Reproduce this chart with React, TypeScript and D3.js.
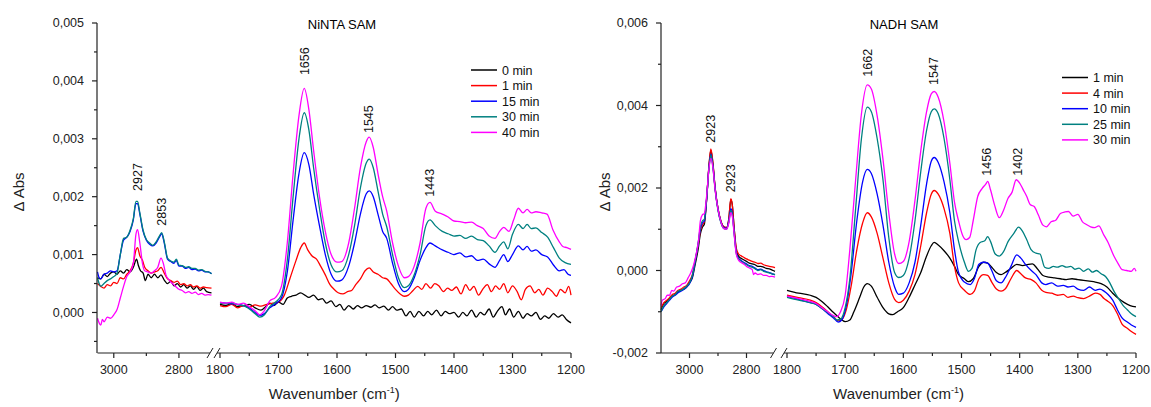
import React from "react";
import * as d3 from "d3";

type P = [number, number];

// ---------------- NiNTA SAM (left) ----------------
const ninaLabels = ["0 min", "1 min", "15 min", "30 min", "40 min"];
const nadhLabels = ["1 min", "4 min", "10 min", "25 min", "30 min"];
const seriesColors = ["#000000", "#ff0000", "#0000ff", "#008080", "#ff00ff"];

const ninta0_hi: P[] = [[3050,0.0006],[3040,0.00058],[3030,0.00066],[3020,0.00062],[3010,0.00068],[3000,0.0007],[2990,0.00066],[2980,0.00072],[2970,0.00068],[2960,0.00074],[2950,0.0007],[2940,0.00078],[2930,0.00092],[2925,0.00082],[2918,0.00072],[2910,0.00068],[2903,0.00055],[2895,0.00066],[2885,0.0006],[2875,0.00066],[2865,0.0006],[2855,0.00065],[2845,0.00056],[2835,0.0005],[2825,0.00054],[2815,0.00046],[2805,0.0005],[2795,0.00044],[2785,0.00048],[2775,0.00042],[2765,0.00046],[2755,0.0004],[2745,0.00045],[2735,0.00038],[2725,0.00042],[2715,0.00036],[2700,0.00034]];
const ninta1_hi: P[] = [[3050,0.0005],[3040,0.00045],[3030,0.00042],[3020,0.00048],[3010,0.00046],[3000,0.00052],[2990,0.0005],[2980,0.0006],[2970,0.00058],[2960,0.00066],[2950,0.00072],[2940,0.00085],[2932,0.00108],[2927,0.00112],[2920,0.00098],[2912,0.0009],[2905,0.00078],[2895,0.00072],[2885,0.00068],[2875,0.0007],[2865,0.00072],[2855,0.00078],[2845,0.00068],[2835,0.00058],[2825,0.00055],[2815,0.00052],[2805,0.00054],[2795,0.00048],[2785,0.0005],[2775,0.00046],[2765,0.00048],[2755,0.00044],[2745,0.00046],[2735,0.00042],[2725,0.00044],[2715,0.00043],[2700,0.00042]];
const ninta15_hi: P[] = [[3050,0.0007],[3045,0.0006],[3040,0.00058],[3030,0.00066],[3020,0.00068],[3010,0.00072],[3000,0.0007],[2990,0.00072],[2980,0.001],[2970,0.00125],[2960,0.0013],[2950,0.0014],[2940,0.0016],[2932,0.00188],[2927,0.00188],[2920,0.0017],[2910,0.0014],[2900,0.00125],[2890,0.00118],[2880,0.00115],[2870,0.0012],[2860,0.0013],[2853,0.00136],[2845,0.0012],[2835,0.00092],[2825,0.00088],[2815,0.00085],[2808,0.0009],[2800,0.0008],[2790,0.0008],[2780,0.00076],[2770,0.00078],[2760,0.00074],[2750,0.00075],[2740,0.00072],[2730,0.00073],[2720,0.0007],[2710,0.0007],[2700,0.00067]];
const ninta30_hi: P[] = [[3050,0.0006],[3045,0.0005],[3040,0.00045],[3030,0.0005],[3020,0.00055],[3010,0.00058],[3000,0.00062],[2990,0.00068],[2980,0.001],[2970,0.00128],[2960,0.0013],[2950,0.00142],[2940,0.00162],[2932,0.00192],[2927,0.00192],[2920,0.00172],[2910,0.00142],[2900,0.00126],[2890,0.0012],[2880,0.00116],[2870,0.00122],[2860,0.00132],[2853,0.00138],[2845,0.00122],[2835,0.00094],[2825,0.00089],[2815,0.00087],[2808,0.00092],[2800,0.00082],[2790,0.00081],[2780,0.00078],[2770,0.00079],[2760,0.00076],[2750,0.00076],[2740,0.00073],[2730,0.00074],[2720,0.00071],[2710,0.0007],[2700,0.00067]];
const ninta40_hi: P[] = [[3050,-0.0001],[3045,-0.00018],[3040,-0.00022],[3035,-0.00012],[3030,-0.00016],[3020,-0.00008],[3010,-0.0001],[3000,-0.00004],[2990,0.00005],[2980,0.00025],[2970,0.00045],[2960,0.00062],[2950,0.0007],[2940,0.00085],[2932,0.00135],[2927,0.00143],[2920,0.0012],[2912,0.00085],[2905,0.00072],[2895,0.0007],[2885,0.00068],[2875,0.00072],[2865,0.00078],[2855,0.00094],[2848,0.00085],[2840,0.00065],[2830,0.00056],[2820,0.0005],[2810,0.00045],[2800,0.0004],[2790,0.00038],[2780,0.00034],[2770,0.00036],[2760,0.00033],[2750,0.00035],[2740,0.00031],[2730,0.00033],[2720,0.0003],[2710,0.00031],[2700,0.0003]];

const ninta0_lo: P[] = [[1800,0.00014],[1790,0.00012],[1780,0.00015],[1770,0.0001],[1760,0.00012],[1750,0.00014],[1740,0.00008],[1730,0.00004],[1722,0.0001],[1715,0.00016],[1708,0.00012],[1700,0.00018],[1692,0.00014],[1685,0.00025],[1678,0.00028],[1670,0.0003],[1662,0.00034],[1655,0.0003],[1648,0.00026],[1640,0.0003],[1632,0.00022],[1625,0.00024],[1618,0.00016],[1610,0.0002],[1602,0.0001],[1595,0.00014],[1588,0.00004],[1580,0.00012],[1572,0.00006],[1565,0.00012],[1558,0.00008],[1550,0.00012],[1542,0.00009],[1535,0.00013],[1528,0.00008],[1520,0.00011],[1512,0.00004],[1505,0.0001],[1498,0.00004],[1490,0.00006],[1482,-0.00006],[1475,0.00002],[1468,-0.00008],[1460,0.00002],[1452,-0.00006],[1445,0.00002],[1438,-0.00004],[1430,0.00004],[1422,-0.00006],[1415,0.00002],[1408,-0.00002],[1400,0],[1392,-0.00008],[1385,0],[1378,-0.00006],[1370,0.00004],[1362,-0.00008],[1355,0],[1348,-0.00004],[1340,0.00006],[1333,-0.00008],[1326,0.00002],[1318,0.0001],[1312,-0.00004],[1305,0.00006],[1298,-0.00008],[1290,0.00002],[1282,-0.0001],[1275,-0.00002],[1268,-0.00006],[1260,0],[1252,-0.00012],[1245,-0.00006],[1238,-0.0001],[1230,-0.00002],[1222,-0.00008],[1215,-0.00004],[1208,-0.00012],[1200,-0.00018]];
const ninta1_lo: P[] = [[1800,0.00012],[1790,0.0001],[1780,0.00014],[1770,0.00008],[1760,0.00012],[1750,0.00009],[1740,0.00013],[1730,0.00011],[1720,0.00014],[1710,0.00016],[1700,0.00018],[1690,0.0003],[1680,0.0006],[1670,0.0009],[1662,0.00112],[1656,0.0012],[1650,0.00108],[1643,0.00098],[1635,0.00092],[1628,0.0008],[1620,0.00065],[1612,0.00048],[1605,0.0004],[1598,0.00034],[1590,0.00032],[1582,0.00036],[1575,0.00038],[1568,0.00048],[1560,0.00058],[1552,0.00072],[1545,0.00077],[1538,0.0007],[1530,0.00066],[1522,0.0006],[1515,0.00058],[1508,0.0005],[1500,0.0004],[1492,0.00032],[1485,0.00028],[1478,0.0003],[1470,0.00038],[1462,0.00045],[1455,0.0004],[1448,0.0005],[1440,0.00042],[1433,0.0005],[1426,0.00046],[1418,0.00036],[1411,0.00042],[1404,0.00038],[1396,0.00044],[1388,0.00032],[1380,0.00048],[1373,0.00038],[1366,0.00045],[1358,0.0003],[1351,0.0004],[1343,0.00048],[1336,0.00036],[1329,0.00046],[1322,0.0004],[1315,0.0005],[1308,0.00034],[1300,0.00046],[1292,0.00036],[1285,0.00022],[1278,0.0004],[1270,0.00046],[1262,0.00034],[1255,0.0004],[1248,0.0003],[1240,0.00042],[1232,0.00036],[1225,0.00028],[1218,0.0004],[1210,0.00034],[1204,0.00045],[1200,0.0003]];
const ninta15_lo: P[] = [[1800,0.00017],[1790,0.00016],[1780,0.00015],[1770,0.00014],[1760,0.00012],[1750,0.00008],[1740,0],[1732,-0.00005],[1724,-0.00002],[1715,0.00008],[1705,0.00015],[1695,0.00025],[1685,0.0007],[1675,0.0016],[1665,0.0024],[1656,0.00276],[1648,0.00255],[1640,0.00205],[1630,0.0015],[1620,0.001],[1610,0.00066],[1600,0.00054],[1592,0.00056],[1580,0.0008],[1570,0.0012],[1560,0.0017],[1550,0.00205],[1545,0.0021],[1538,0.002],[1530,0.0017],[1522,0.0014],[1515,0.00128],[1505,0.00085],[1495,0.0005],[1485,0.00036],[1478,0.0004],[1468,0.0006],[1458,0.0009],[1448,0.00112],[1441,0.0012],[1432,0.00115],[1420,0.00108],[1410,0.00104],[1400,0.001],[1390,0.00103],[1380,0.00096],[1370,0.00098],[1360,0.0009],[1350,0.00092],[1340,0.00084],[1330,0.00078],[1322,0.0009],[1315,0.001],[1308,0.00088],[1300,0.001],[1290,0.00115],[1282,0.00108],[1275,0.00114],[1268,0.00106],[1260,0.00108],[1250,0.001],[1240,0.00096],[1230,0.00082],[1220,0.00072],[1212,0.00074],[1205,0.00066],[1200,0.00064]];
const ninta30_lo: P[] = [[1800,0.00016],[1790,0.00015],[1780,0.00017],[1770,0.00013],[1760,0.00012],[1750,0.00006],[1740,-0.00002],[1732,-0.00008],[1724,-0.00004],[1715,0.0001],[1705,0.00018],[1695,0.0003],[1685,0.0009],[1675,0.002],[1665,0.003],[1656,0.00345],[1648,0.00315],[1640,0.0025],[1630,0.0018],[1620,0.0012],[1610,0.00082],[1600,0.0007],[1592,0.00072],[1580,0.001],[1570,0.0015],[1560,0.00215],[1550,0.00258],[1545,0.00265],[1538,0.0025],[1530,0.0021],[1522,0.0017],[1515,0.00148],[1505,0.001],[1495,0.0006],[1485,0.00043],[1478,0.00046],[1468,0.00065],[1458,0.001],[1448,0.0015],[1441,0.0016],[1432,0.0015],[1420,0.0014],[1410,0.00136],[1400,0.00132],[1390,0.00133],[1380,0.00128],[1370,0.00132],[1360,0.00126],[1350,0.00124],[1340,0.00115],[1330,0.00104],[1322,0.00115],[1315,0.00122],[1308,0.0011],[1300,0.00135],[1290,0.00152],[1282,0.00145],[1275,0.00152],[1268,0.00145],[1260,0.00146],[1250,0.00138],[1240,0.0013],[1230,0.00112],[1220,0.00094],[1210,0.00086],[1200,0.00083]];
const ninta40_lo: P[] = [[1800,0.00018],[1790,0.00016],[1780,0.00018],[1770,0.00014],[1760,0.00016],[1750,0.0001],[1740,0.00003],[1732,-0.00004],[1725,0.00002],[1715,0.0002],[1705,0.00026],[1695,0.00045],[1685,0.0012],[1675,0.0024],[1665,0.0034],[1656,0.00387],[1648,0.0035],[1640,0.0028],[1630,0.002],[1620,0.0014],[1610,0.001],[1600,0.00087],[1592,0.00088],[1580,0.0012],[1570,0.0018],[1560,0.0025],[1550,0.00295],[1545,0.00303],[1538,0.00285],[1530,0.0024],[1522,0.002],[1515,0.00175],[1505,0.0012],[1495,0.0008],[1485,0.0006],[1478,0.00062],[1468,0.0008],[1458,0.0012],[1448,0.0018],[1441,0.0019],[1432,0.00175],[1420,0.0017],[1410,0.00165],[1400,0.00158],[1390,0.00157],[1380,0.00155],[1370,0.00156],[1360,0.0015],[1350,0.00145],[1340,0.00132],[1330,0.00128],[1322,0.0014],[1315,0.00147],[1306,0.0014],[1298,0.0016],[1290,0.0018],[1282,0.00172],[1275,0.00178],[1268,0.00172],[1260,0.00174],[1250,0.00172],[1241,0.0017],[1231,0.00143],[1220,0.00122],[1214,0.00114],[1207,0.00112],[1200,0.00109]];

// ---------------- NADH SAM (right) ----------------
const nadh1_hi: P[] = [[3100,-0.00095],[3090,-0.0008],[3080,-0.00075],[3070,-0.00068],[3060,-0.00062],[3050,-0.00058],[3040,-0.00052],[3030,-0.00048],[3020,-0.00045],[3010,-0.0004],[3000,-0.0003],[2990,-0.00018],[2980,0.00015],[2970,0.0005],[2962,0.00088],[2955,0.00105],[2948,0.00112],[2940,0.0017],[2932,0.0025],[2925,0.00292],[2918,0.0026],[2910,0.002],[2900,0.0015],[2890,0.0012],[2880,0.00106],[2870,0.00104],[2862,0.00125],[2855,0.00172],[2850,0.0016],[2843,0.001],[2836,0.0005],[2828,0.00035],[2820,0.0003],[2810,0.00026],[2800,0.00022],[2790,0.00018],[2780,0.00016],[2770,0.00014],[2760,0.0001],[2750,0.0001],[2740,0.00008],[2730,0.00005],[2720,0.00004],[2710,0.00001],[2700,-0.00002]];
const nadh4_hi: P[] = [[3100,-0.0009],[3090,-0.00078],[3080,-0.00072],[3070,-0.00066],[3060,-0.00058],[3050,-0.00055],[3040,-0.00048],[3030,-0.00045],[3020,-0.0004],[3010,-0.00036],[3000,-0.00025],[2990,-0.0001],[2980,0.00025],[2970,0.0006],[2962,0.00095],[2955,0.0011],[2948,0.00118],[2940,0.00172],[2932,0.00252],[2925,0.00295],[2918,0.00262],[2910,0.002],[2900,0.0015],[2890,0.0012],[2880,0.00106],[2870,0.00104],[2862,0.00126],[2855,0.00174],[2850,0.0016],[2843,0.001],[2836,0.00055],[2828,0.0004],[2820,0.00036],[2810,0.00032],[2800,0.00028],[2790,0.00025],[2780,0.00022],[2770,0.0002],[2760,0.00017],[2750,0.00018],[2740,0.00014],[2730,0.00012],[2720,0.0001],[2710,0.00009],[2700,0.00007]];
const nadh10_hi: P[] = [[3100,-0.001],[3090,-0.00088],[3080,-0.0008],[3070,-0.00072],[3060,-0.00064],[3050,-0.0006],[3040,-0.00054],[3030,-0.0005],[3020,-0.00046],[3010,-0.0004],[3000,-0.00032],[2990,-0.00015],[2980,0.00022],[2970,0.00062],[2962,0.001],[2955,0.00115],[2948,0.0012],[2940,0.00172],[2932,0.00248],[2925,0.00282],[2918,0.00255],[2910,0.00198],[2900,0.00148],[2890,0.00118],[2880,0.00104],[2870,0.00102],[2862,0.0012],[2855,0.0015],[2850,0.0014],[2843,0.0009],[2836,0.00045],[2828,0.0003],[2820,0.00025],[2810,0.0002],[2800,0.00016],[2790,0.00012],[2780,0.0001],[2770,0.00006],[2760,0.00002],[2750,0.00003],[2740,0],[2730,-0.00003],[2720,-0.00005],[2710,-0.00008],[2700,-0.0001]];
const nadh25_hi: P[] = [[3100,-0.001],[3090,-0.00085],[3080,-0.00078],[3070,-0.0007],[3060,-0.00062],[3050,-0.00058],[3040,-0.0005],[3030,-0.00048],[3020,-0.00044],[3010,-0.00038],[3000,-0.0003],[2990,-0.00012],[2980,0.00025],[2970,0.00065],[2962,0.00105],[2955,0.0012],[2948,0.00124],[2940,0.00175],[2932,0.00245],[2925,0.0028],[2918,0.00252],[2910,0.00196],[2900,0.00146],[2890,0.00116],[2880,0.00102],[2870,0.001],[2862,0.00118],[2855,0.00146],[2850,0.00136],[2843,0.00088],[2836,0.00043],[2828,0.00028],[2820,0.00023],[2810,0.00018],[2800,0.00014],[2790,0.0001],[2780,0.00008],[2770,0.00004],[2760,0],[2750,0.00002],[2740,-0.00002],[2730,-0.00004],[2720,-0.00006],[2710,-0.00008],[2700,-0.0001]];
const nadh30_hi: P[] = [[3100,-0.00085],[3095,-0.00072],[3085,-0.00068],[3078,-0.0006],[3070,-0.0006],[3062,-0.00048],[3055,-0.0005],[3045,-0.0004],[3035,-0.00038],[3025,-0.00032],[3015,-0.0003],[3005,-0.00018],[2995,-0.00005],[2985,0.00015],[2975,0.00045],[2968,0.00075],[2962,0.0012],[2955,0.00135],[2948,0.00138],[2940,0.0018],[2932,0.00245],[2925,0.00272],[2918,0.0025],[2910,0.00195],[2900,0.00148],[2890,0.00118],[2880,0.00102],[2870,0.001],[2862,0.00115],[2855,0.0014],[2850,0.00132],[2843,0.00085],[2836,0.0004],[2828,0.00025],[2820,0.0002],[2810,0.00016],[2800,0.0001],[2790,0.00006],[2780,0.00002],[2775,-0.0001],[2770,-0.00006],[2760,-0.0001],[2750,-0.00008],[2740,-0.00012],[2730,-0.00012],[2720,-0.00015],[2710,-0.00014],[2700,-0.00016]];

const nadh1_lo: P[] = [[1800,-0.00048],[1780,-0.00055],[1760,-0.0006],[1750,-0.00065],[1740,-0.00075],[1730,-0.00088],[1720,-0.00102],[1710,-0.00115],[1700,-0.00124],[1692,-0.0012],[1685,-0.001],[1675,-0.00065],[1668,-0.0004],[1662,-0.00032],[1655,-0.00038],[1645,-0.00065],[1635,-0.0009],[1625,-0.00105],[1618,-0.00107],[1610,-0.001],[1600,-0.0009],[1590,-0.00065],[1580,-0.00035],[1570,-0.00005],[1560,0.00035],[1552,0.0006],[1547,0.00068],[1540,0.00062],[1530,0.00048],[1520,0.0003],[1512,0.0001],[1505,-0.0001],[1495,-0.0002],[1488,-0.00027],[1480,-0.0002],[1470,0.0001],[1462,0.0002],[1455,0.00018],[1448,0.00008],[1440,-0.00005],[1432,-0.0001],[1425,-0.00005],[1415,0.00005],[1405,0.00015],[1395,0.00012],[1385,0.00015],[1378,0.00016],[1370,0.00005],[1360,-0.00012],[1350,-0.00016],[1340,-0.00018],[1330,-0.0002],[1320,-0.00022],[1310,-0.0002],[1300,-0.00022],[1290,-0.00024],[1280,-0.00026],[1270,-0.00028],[1260,-0.00032],[1250,-0.0004],[1240,-0.00055],[1230,-0.00068],[1220,-0.00078],[1210,-0.00085],[1200,-0.00088]];
const nadh4_lo: P[] = [[1800,-0.0006],[1780,-0.00066],[1760,-0.00072],[1750,-0.00078],[1740,-0.00088],[1730,-0.001],[1720,-0.00112],[1712,-0.00122],[1705,-0.00118],[1698,-0.00095],[1690,-0.0004],[1680,0.0005],[1670,0.00115],[1662,0.0014],[1655,0.0013],[1645,0.0009],[1635,0.0003],[1625,-0.0003],[1615,-0.0007],[1608,-0.00078],[1600,-0.00072],[1590,-0.0005],[1580,-0.0001],[1570,0.0006],[1560,0.0014],[1552,0.00185],[1547,0.00194],[1540,0.00185],[1530,0.0015],[1520,0.0009],[1512,0.0001],[1505,-0.0003],[1495,-0.00048],[1485,-0.00058],[1478,-0.0005],[1470,-0.0002],[1462,-0.0001],[1455,-0.00012],[1448,-0.00028],[1440,-0.00045],[1432,-0.0005],[1425,-0.00045],[1415,-0.0002],[1405,0],[1398,-0.00008],[1390,-0.00018],[1380,-0.00022],[1372,-0.0003],[1362,-0.00048],[1355,-0.00053],[1345,-0.00055],[1335,-0.0006],[1325,-0.00058],[1317,-0.00065],[1308,-0.00062],[1300,-0.00066],[1290,-0.00068],[1280,-0.00062],[1270,-0.00055],[1262,-0.00058],[1255,-0.00068],[1248,-0.00075],[1240,-0.00085],[1232,-0.00105],[1224,-0.0013],[1215,-0.0014],[1208,-0.00148],[1200,-0.00155]];
const nadh10_lo: P[] = [[1800,-0.00063],[1780,-0.0007],[1760,-0.00078],[1750,-0.00082],[1740,-0.00092],[1730,-0.00104],[1720,-0.00115],[1712,-0.00125],[1706,-0.0012],[1698,-0.00085],[1690,-0.0001],[1680,0.0012],[1670,0.00215],[1662,0.00245],[1655,0.00235],[1645,0.00185],[1635,0.0011],[1625,0.0002],[1615,-0.0004],[1608,-0.00058],[1600,-0.00055],[1590,-0.0003],[1580,0.0002],[1570,0.0011],[1560,0.0021],[1552,0.00265],[1547,0.00274],[1540,0.00262],[1530,0.00215],[1520,0.0014],[1512,0.0005],[1505,-0.00005],[1495,-0.00028],[1485,-0.00034],[1478,-0.0002],[1470,0.00015],[1462,0.0002],[1455,0.00018],[1448,0],[1440,-0.00025],[1432,-0.0003],[1425,-0.00018],[1415,0.0001],[1405,0.00038],[1398,0.0003],[1390,0.00015],[1380,0],[1372,-0.0001],[1362,-0.0003],[1355,-0.00034],[1345,-0.0003],[1335,-0.00038],[1325,-0.00036],[1317,-0.0004],[1308,-0.00038],[1300,-0.00045],[1290,-0.00048],[1280,-0.0004],[1270,-0.00048],[1262,-0.00045],[1255,-0.0005],[1248,-0.00058],[1240,-0.00072],[1232,-0.00095],[1224,-0.00115],[1215,-0.00125],[1208,-0.00132],[1200,-0.00138]];
const nadh25_lo: P[] = [[1800,-0.00065],[1780,-0.00072],[1760,-0.00078],[1750,-0.00082],[1740,-0.00092],[1730,-0.00102],[1720,-0.00112],[1714,-0.0012],[1708,-0.00118],[1700,-0.0009],[1692,-0.0002],[1682,0.0015],[1672,0.0032],[1662,0.00396],[1655,0.00385],[1645,0.0032],[1635,0.0022],[1625,0.0008],[1615,-0.00005],[1608,-0.00017],[1600,-0.00012],[1590,0.0003],[1580,0.0012],[1570,0.0024],[1560,0.0034],[1552,0.00385],[1547,0.00392],[1540,0.0038],[1530,0.0032],[1520,0.0022],[1512,0.0012],[1505,0.0007],[1495,0.0002],[1488,-0.00002],[1482,0.00005],[1475,0.0005],[1468,0.00068],[1460,0.00072],[1455,0.00082],[1450,0.0007],[1442,0.0004],[1435,0.00035],[1428,0.00045],[1420,0.0007],[1410,0.0009],[1402,0.00105],[1395,0.00095],[1388,0.00075],[1380,0.0005],[1372,0.00042],[1365,0.0004],[1357,0.00008],[1350,0.00005],[1342,0.0001],[1335,0.00008],[1327,0.00012],[1320,0.00008],[1312,0.0001],[1305,0.00003],[1298,0.00006],[1290,-0.00002],[1282,0.00004],[1275,-0.00004],[1268,0],[1260,-0.00008],[1252,-0.00015],[1245,-0.0003],[1238,-0.0005],[1230,-0.00068],[1222,-0.00085],[1215,-0.00095],[1208,-0.00105],[1200,-0.00112]];
const nadh30_lo: P[] = [[1800,-0.00062],[1780,-0.00068],[1760,-0.00075],[1750,-0.0008],[1740,-0.0009],[1730,-0.001],[1722,-0.00108],[1715,-0.00112],[1708,-0.001],[1700,-0.0006],[1692,0.0005],[1682,0.0022],[1672,0.0038],[1662,0.0045],[1655,0.0044],[1645,0.00375],[1635,0.0027],[1625,0.0014],[1615,0.0004],[1608,0.00017],[1600,0.00022],[1590,0.0007],[1580,0.0017],[1570,0.0029],[1560,0.00385],[1552,0.00428],[1547,0.00434],[1540,0.0042],[1530,0.0036],[1520,0.0026],[1512,0.00165],[1505,0.0012],[1498,0.00085],[1492,0.00075],[1486,0.0008],[1480,0.0012],[1472,0.0018],[1465,0.00198],[1458,0.0021],[1455,0.00216],[1450,0.00195],[1443,0.00158],[1435,0.00128],[1428,0.00145],[1420,0.00175],[1413,0.0019],[1406,0.0022],[1400,0.00212],[1394,0.00196],[1388,0.0018],[1382,0.0016],[1375,0.00155],[1368,0.00135],[1360,0.0011],[1354,0.00106],[1346,0.00118],[1338,0.00122],[1330,0.00138],[1322,0.00142],[1316,0.00143],[1308,0.00132],[1300,0.00136],[1292,0.00118],[1286,0.00112],[1278,0.00106],[1271,0.00104],[1264,0.00108],[1256,0.00088],[1248,0.00068],[1238,0.00035],[1230,0.00015],[1224,0.00002],[1216,0],[1208,-0.00002],[1203,0.00005],[1200,-0.00002]];

const nintaHi = [ninta0_hi, ninta1_hi, ninta15_hi, ninta30_hi, ninta40_hi];
const nintaLo = [ninta0_lo, ninta1_lo, ninta15_lo, ninta30_lo, ninta40_lo];
const nadhHi = [nadh1_hi, nadh4_hi, nadh10_hi, nadh25_hi, nadh30_hi];
const nadhLo = [nadh1_lo, nadh4_lo, nadh10_lo, nadh25_lo, nadh30_lo];

// ticks
const nintaYTicks = [0, 0.001, 0.002, 0.003, 0.004, 0.005];
const nintaYMinor = [-0.0005, 0.0005, 0.0015, 0.0025, 0.0035, 0.0045];
const nadhYTicks = [-0.002, 0, 0.002, 0.004, 0.006];
const nadhYMinor = [-0.001, 0.001, 0.003, 0.005];
const hiXTicks = [3000, 2800];
const hiXMinor = [2900];
const loXTicks = [1800, 1700, 1600, 1500, 1400, 1300, 1200];
const loXMinor = [1750, 1650, 1550, 1450, 1350, 1250];

// peak annotations [wavenumber label, segment, value above which label sits]
const nintaPeaks: [string, number, number, number][] = [["2927", 2927, 0, 0.0021], ["2853", 2853, 0, 0.0015], ["1656", 1656, 1, 0.0041], ["1545", 1545, 1, 0.0031], ["1443", 1441, 1, 0.002]];
const nadhPeaks: [string, number, number, number][] = [["2923", 2925, 0, 0.0031], ["2923", 2855, 0, 0.0019], ["1662", 1662, 1, 0.0047], ["1547", 1547, 1, 0.0045], ["1456", 1456, 1, 0.0023], ["1402", 1403, 1, 0.0023]];

const locale = d3.formatLocale({ decimal: ",", thousands: ".", grouping: [3], currency: ["", ""], minus: "-" });
const fmt = locale.format(".3f");
const FONT = "'Liberation Sans', Arial, Helvetica, sans-serif";
const AX = "#222";

type PanelProps = {
  title: string;
  titleX: number;
  yDomain: [number, number];
  yTicks: number[];
  yMinor: number[];
  x0: number; // left y-axis x
  hiDomain: [number, number];
  hiRange: [number, number];
  loRange: [number, number];
  hi: P[][];
  lo: P[][];
  labels: string[];
  legendX: number;
  legendY: number;
  peaks: [string, number, number, number][];
  yLabelX: number;
};

function Panel(p: PanelProps) {
  const top = 23, bottom = 353;
  const y = d3.scaleLinear().domain(p.yDomain).range([bottom, top]);
  const xh = d3.scaleLinear().domain(p.hiDomain).range(p.hiRange);
  const xl = d3.scaleLinear().domain([1800, 1200]).range(p.loRange);
  const lh = d3.line<P>().x((d) => xh(d[0])).y((d) => y(d[1])).curve(d3.curveMonotoneX);
  const ll = d3.line<P>().x((d) => xl(d[0])).y((d) => y(d[1])).curve(d3.curveMonotoneX);
  const b1 = p.hiRange[1] - 1.5;
  const b2 = p.loRange[0] - 3;
  const xLabelCenter = (p.hiRange[0] + p.loRange[1]) / 2 + 0;
  return (
    <g fontFamily={FONT}>
      <text x={p.titleX} y={29} fontSize={13} textAnchor="middle" fill="#000">{p.title}</text>
      {/* series */}
      {p.hi.map((s, i) => (
        <path key={"h" + i} d={lh(s) || ""} fill="none" stroke={seriesColors[i]} strokeWidth={1.3} strokeLinejoin="round" />
      ))}
      {p.lo.map((s, i) => (
        <path key={"l" + i} d={ll(s) || ""} fill="none" stroke={seriesColors[i]} strokeWidth={1.3} strokeLinejoin="round" />
      ))}
      {/* y axis */}
      <line x1={p.x0} x2={p.x0} y1={top} y2={bottom} stroke={AX} strokeWidth={1.2} />
      {p.yTicks.map((t) => (
        <g key={"yt" + t}>
          <line x1={p.x0 - 5} x2={p.x0} y1={y(t)} y2={y(t)} stroke={AX} strokeWidth={1.2} />
          <text x={p.x0 - 13} y={y(t) + 4.3} fontSize={12.5} textAnchor="end" fill="#222">{fmt(t)}</text>
        </g>
      ))}
      {p.yMinor.map((t) => (
        <line key={"ym" + t} x1={p.x0 - 3} x2={p.x0} y1={y(t)} y2={y(t)} stroke={AX} strokeWidth={1.2} />
      ))}
      <text transform={`translate(${p.yLabelX},192) rotate(-90)`} fontSize={15} textAnchor="middle" fill="#222">Δ Abs</text>
      {/* x axis */}
      <line x1={p.hiRange[0]} x2={b1} y1={bottom} y2={bottom} stroke={AX} strokeWidth={1.2} />
      <line x1={b2} x2={p.loRange[1]} y1={bottom} y2={bottom} stroke={AX} strokeWidth={1.2} />
      <line x1={b1 - 3} x2={b1 + 3} y1={bottom + 5} y2={bottom - 5} stroke={AX} strokeWidth={1} />
      <line x1={b2 - 3} x2={b2 + 3} y1={bottom + 5} y2={bottom - 5} stroke={AX} strokeWidth={1} />
      {hiXTicks.map((t) => (
        <g key={"xh" + t}>
          <line x1={xh(t)} x2={xh(t)} y1={bottom} y2={bottom + 5} stroke={AX} strokeWidth={1.2} />
          <text x={xh(t)} y={374} fontSize={12.5} textAnchor="middle" fill="#222">{t}</text>
        </g>
      ))}
      {hiXMinor.map((t) => (
        <line key={"xhm" + t} x1={xh(t)} x2={xh(t)} y1={bottom} y2={bottom + 3} stroke={AX} strokeWidth={1.2} />
      ))}
      {loXTicks.map((t) => (
        <g key={"xl" + t}>
          <line x1={xl(t)} x2={xl(t)} y1={bottom} y2={bottom + 5} stroke={AX} strokeWidth={1.2} />
          <text x={xl(t)} y={374} fontSize={12.5} textAnchor="middle" fill="#222">{t}</text>
        </g>
      ))}
      {loXMinor.map((t) => (
        <line key={"xlm" + t} x1={xl(t)} x2={xl(t)} y1={bottom} y2={bottom + 3} stroke={AX} strokeWidth={1.2} />
      ))}
      <text x={xLabelCenter} y={399} fontSize={15} textAnchor="middle" fill="#222">
        Wavenumber (cm<tspan dy={-6} fontSize={9}>-1</tspan><tspan dy={6}>)</tspan>
      </text>
      {/* peak labels */}
      {p.peaks.map(([lab, w, seg, v], i) => {
        const px = seg === 0 ? xh(w) : xl(w);
        return (
          <text key={"pk" + i} transform={`translate(${px + 4.3},${y(v)}) rotate(-90)`} fontSize={12.5} textAnchor="start" fill="#111">{lab}</text>
        );
      })}
      {/* legend */}
      {p.labels.map((lab, i) => (
        <g key={"lg" + i}>
          <line x1={p.legendX} x2={p.legendX + 26} y1={p.legendY + i * 15.6} y2={p.legendY + i * 15.6} stroke={seriesColors[i]} strokeWidth={1.5} />
          <text x={p.legendX + 31} y={p.legendY + i * 15.6 + 4.5} fontSize={12.5} fill="#111">{lab}</text>
        </g>
      ))}
    </g>
  );
}

export default function App() {
  return (
    <svg width={1151} height={407} style={{ position: "absolute", left: 0, top: 0, background: "#fff" }}>
      <rect width={1151} height={407} fill="#fff" />
      <Panel
        title="NiNTA SAM"
        titleX={342}
        yDomain={[-0.0007, 0.005]}
        yTicks={nintaYTicks}
        yMinor={nintaYMinor}
        x0={97}
        hiDomain={[3050, 2700]}
        hiRange={[97.5, 211.5]}
        loRange={[220, 571]}
        hi={nintaHi}
        lo={nintaLo}
        labels={ninaLabels}
        legendX={471}
        legendY={70}
        peaks={nintaPeaks}
        yLabelX={24}
      />
      <Panel
        title="NADH SAM"
        titleX={904}
        yDomain={[-0.002, 0.006]}
        yTicks={nadhYTicks}
        yMinor={nadhYMinor}
        x0={661}
        hiDomain={[3100, 2700]}
        hiRange={[661, 775]}
        loRange={[787, 1136]}
        hi={nadhHi}
        lo={nadhLo}
        labels={nadhLabels}
        legendX={1062}
        legendY={77.5}
        peaks={nadhPeaks}
        yLabelX={610}
      />
    </svg>
  );
}
